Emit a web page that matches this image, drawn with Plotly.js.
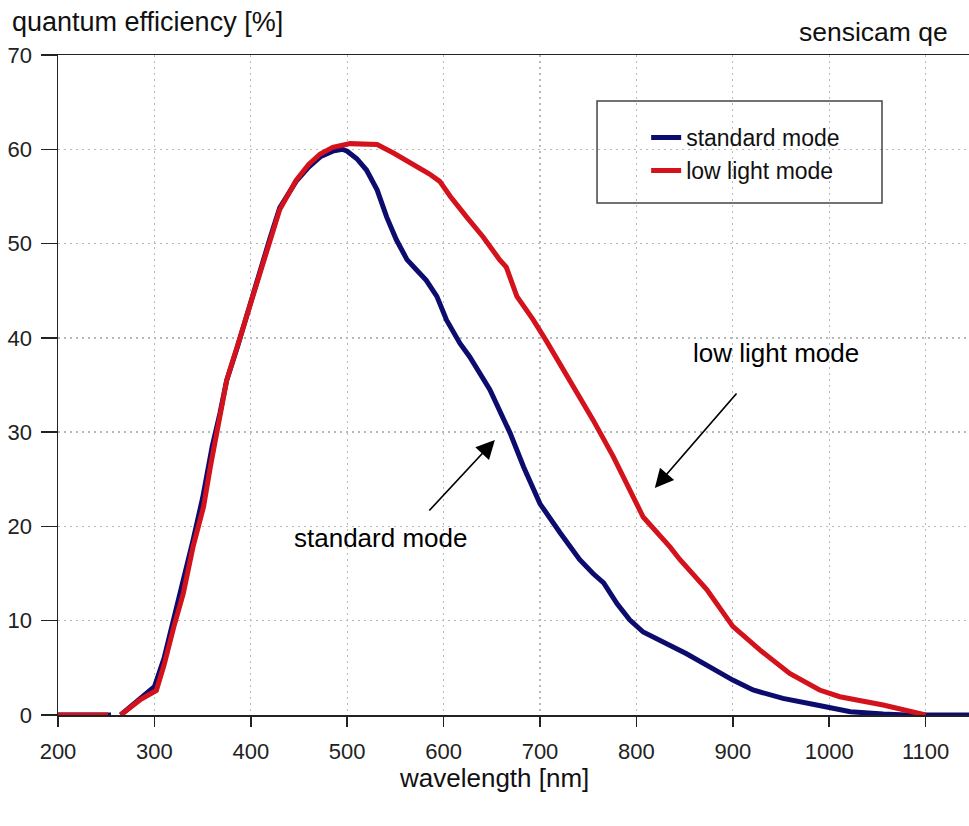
<!DOCTYPE html>
<html><head><meta charset="utf-8">
<script src="https://cdn.plot.ly/plotly-3.0.1.min.js"></script>
<style>html,body{margin:0;padding:0;background:#fff}</style>
</head><body><div id="chart" style="width:969px;height:826px"></div>
<script>
// standard mode (blue)
const stdWavelength = [200,255,null,265,285,300,310,320,330,340,350,360,368,375,386,393,401,410,420,430,447,460,472,485,495,500,510,520,531,541,551,562,572,582,593,603,617,627,648,662,669,683,700,721,741,755,766,780,793,807,831,852,876,900,921,952,987,1022,1056,1080,1150];
const stdQE = [0,0,null,0,1.8,3.0,6,10,14,18.5,23,28.5,32,35.5,39,41.5,44.4,47.2,50.6,53.8,56.6,58.1,59.2,59.8,60,59.8,59,57.8,55.7,52.8,50.4,48.3,47.2,46.1,44.4,41.9,39.4,38,34.5,31.6,29.9,26.3,22.4,19.3,16.5,15,14,11.8,10.1,8.8,7.6,6.5,5.1,3.7,2.65,1.76,1.06,0.35,0.1,0,0];
// low light mode (red)
const lowWavelength = [200,252,null,265,285,302,310,320,330,340,351,358,365,375,389,401,410,420,430,447,460,472,485,503,531,548,560,572,585,596,607,624,641,658,665,676,693,707,731,755,776,797,807,835,845,873,900,928,959,990,1011,1056,1100];
const lowQE = [0,0,null,0,1.6,2.6,5.3,9.3,12.9,17.8,22.1,26.3,30.2,35.5,40.1,44,46.8,50.2,53.6,56.7,58.4,59.5,60.2,60.6,60.5,59.6,58.9,58.1,57.4,56.6,55,52.8,50.7,48.3,47.5,44.4,41.9,39.6,35.5,31.3,27.4,23.1,21,17.8,16.5,13.3,9.4,6.9,4.4,2.65,1.94,1.06,0];
const xTickVals = [200,300,400,500,600,700,800,900,1000,1100];
const yTickVals = [0,10,20,30,40,50,60,70];
const seriesNames = ['standard mode','low light mode'];

const FONT = 'Liberation Sans, Arial, Helvetica, sans-serif';
const BLUE = '#0c0c6e', RED = '#d3121c';

const traces = [
  {x: stdWavelength, y: stdQE, name: seriesNames[0], type:'scatter', mode:'lines',
   line:{color:BLUE, width:5}, cliponaxis:false, connectgaps:false},
  {x: lowWavelength, y: lowQE, name: seriesNames[1], type:'scatter', mode:'lines',
   line:{color:RED, width:5}, cliponaxis:false, connectgaps:false}
];

const layout = {
  width:969, height:826,
  margin:{l:58, r:0, t:55, b:111},
  paper_bgcolor:'#fff', plot_bgcolor:'#fff',
  font:{family:FONT, color:'#111'},
  showlegend:true,
  legend:{x:0.6456, y:0.9075, xanchor:'left', yanchor:'top', bgcolor:'rgba(0,0,0,0)',
          borderwidth:0, font:{size:23, family:FONT, color:'#111'}},
  xaxis:{range:[200,1145], tickvals:xTickVals, ticktext:xTickVals.map(String),
         showline:true, linecolor:'#222', linewidth:1.5, mirror:true,
         ticks:'outside', ticklen:10, tickwidth:1.5, tickcolor:'#222',
         ticklabelstandoff:6,
         showgrid:true, gridcolor:'#b8b8b8', griddash:'2px,4px', gridwidth:1.3,
         zeroline:false, tickfont:{size:22, family:FONT, color:'#222'}},
  yaxis:{range:[0,70], tickvals:yTickVals, ticktext:yTickVals.map(String),
         showline:true, linecolor:'#222', linewidth:1.5,
         ticks:'outside', ticklen:16, tickwidth:1.5, tickcolor:'#222',
         ticklabelstandoff:4,
         showgrid:true, gridcolor:'#b8b8b8', griddash:'2px,4px', gridwidth:1.3,
         zeroline:false, tickfont:{size:22, family:FONT, color:'#222'}},
  shapes:[
    {type:'rect', xref:'paper', yref:'paper', x0:0.5917, x1:0.9045, y0:0.7758, y1:0.9303,
     line:{color:'#444', width:1.5}, fillcolor:'rgba(0,0,0,0)'}
  ],
  annotations:[
    {text:'quantum efficiency [%]', xref:'paper', yref:'paper', x:-0.0527, y:1.05,
     xanchor:'left', yanchor:'middle', showarrow:false, font:{size:27, family:FONT, color:'#111'}},
    {text:'sensicam qe', xref:'paper', yref:'paper', x:0.979, y:1.035,
     xanchor:'right', yanchor:'middle', showarrow:false, font:{size:26.5, family:FONT, color:'#111'}},
    {text:'wavelength [nm]', xref:'paper', yref:'paper', x:0.4786, y:-0.096,
     xanchor:'center', yanchor:'middle', showarrow:false, font:{size:26, family:FONT, color:'#111'}},
    {text:'standard mode', x:535, y:18.77, xanchor:'center', yanchor:'middle', showarrow:false,
     font:{size:26, family:FONT, color:'#000'}},
    {text:'low light mode', x:944.6, y:38.4, xanchor:'center', yanchor:'middle', showarrow:false,
     font:{size:26, family:FONT, color:'#000'}},
    {text:'', x:653.2, y:29.17, ax:-67, ay:72, showarrow:true, arrowhead:2, arrowsize:2.2,
     arrowwidth:1.7, arrowcolor:'#000', standoff:0, startstandoff:0},
    {text:'', x:819.1, y:24.08, ax:83, ay:-96, showarrow:true, arrowhead:2, arrowsize:2.2,
     arrowwidth:1.7, arrowcolor:'#000', standoff:0, startstandoff:0}
  ]
};

Plotly.newPlot('chart', traces, layout, {displayModeBar:false, staticPlot:true});
</script></body></html>
